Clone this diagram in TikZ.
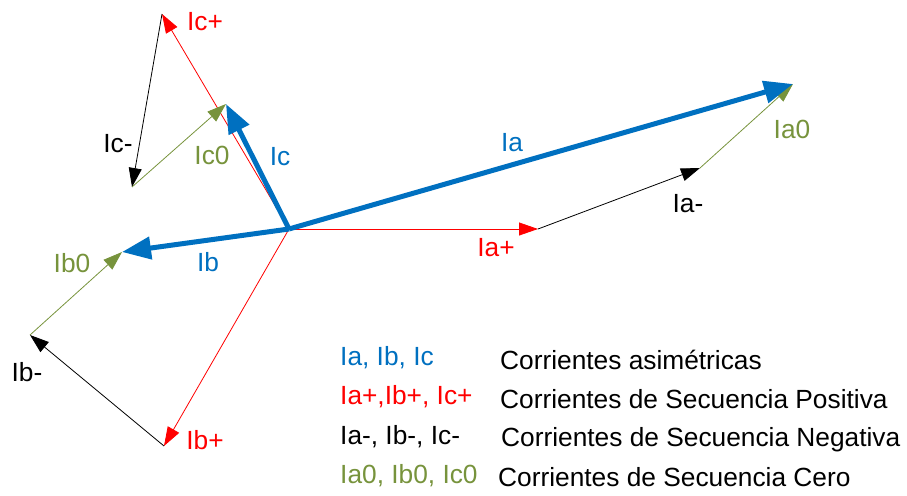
\documentclass[tikz,border=0pt]{standalone}
\usepackage{fontspec}
\setmainfont{Liberation Sans}
\usetikzlibrary{arrows.meta}
\definecolor{seqasym}{HTML}{0070C0}
\definecolor{seqpos}{HTML}{FF0000}
\definecolor{seqzero}{HTML}{77933C}

\begin{document}
\begin{tikzpicture}[x=1pt, y=-1pt,
    every node/.style={font=\fontsize{26.3}{31}\selectfont, inner sep=0pt},
    thinvec/.style={line width=0.8pt, -{Triangle[length=19pt,width=13pt]}},
    thickvec/.style={line width=5pt, -{Triangle[length=29pt,width=22pt]}}]
    \useasboundingbox (0,0) rectangle (907,495);
    % points of the phasor triangles
    \coordinate (O) at (289,229);
    \coordinate (ap) at (538,229);
    \coordinate (an) at (700,168);
    \coordinate (a) at (793,84);
    \coordinate (bp) at (164,446);
    \coordinate (bn) at (30,335);
    \coordinate (b) at (122,252);
    \coordinate (cp) at (162,14);
    \coordinate (cn) at (132,187);
    \coordinate (c) at (226,104);
    % positive sequence
    \draw[thinvec, seqpos] (O) -- (ap);
    \draw[thinvec, seqpos] (O) -- (bp);
    \draw[thinvec, seqpos] (O) -- (cp);
    % negative sequence
    \draw[thinvec, black] (ap) -- (an);
    \draw[thinvec, black] (bp) -- (bn);
    \draw[thinvec, black] (cp) -- (cn);
    % zero sequence
    \draw[thinvec, seqzero] (an) -- (a);
    \draw[thinvec, seqzero] (bn) -- (b);
    \draw[thinvec, seqzero] (cn) -- (c);
    % asymmetric currents
    \draw[thickvec, seqasym] (O) -- (a);
    \draw[thickvec, seqasym] (O) -- (b);
    \draw[thickvec, seqasym] (O) -- (c);
    % labels
    \node[seqpos] (lap) at (496,248) {Ia+};
    \node[seqpos] (lbp) at (205,440) {Ib+};
    \node[seqpos] (lcp) at (205,22) {Ic+};
    \node (lan) at (688,204) {Ia-};
    \node (lbn) at (27,372) {Ib-};
    \node (lcn) at (118,144) {Ic-};
    \node[seqzero] (la0) at (792,129) {Ia0};
    \node[seqzero] (lb0) at (72,263) {Ib0};
    \node[seqzero] (lc0) at (212,155) {Ic0};
    \node[seqasym] (la) at (512,143) {Ia};
    \node[seqasym] (lb) at (208,262) {Ib};
    \node[seqasym] (lc) at (280,157) {Ic};
    % legend
    \node[seqasym, anchor=west] (k1) at (340,358) {Ia, Ib, Ic};
    \node[seqpos, anchor=west] (k2) at (340,397) {Ia+,Ib+, Ic+};
    \node[anchor=west] (k3) at (340,437) {Ia-, Ib-, Ic-};
    \node[seqzero, anchor=west] (k4) at (340,476) {Ia0, Ib0, Ic0};
    \node[anchor=west] (t1) at (500,360) {Corrientes asimétricas};
    \node[anchor=west] (t2) at (500,399) {Corrientes de Secuencia Positiva};
    \node[anchor=west] (t3) at (501,440) {Corrientes de Secuencia Negativa};
    \node[anchor=west] (t4) at (498,477) {Corrientes de Secuencia Cero};
\end{tikzpicture}
\end{document}
